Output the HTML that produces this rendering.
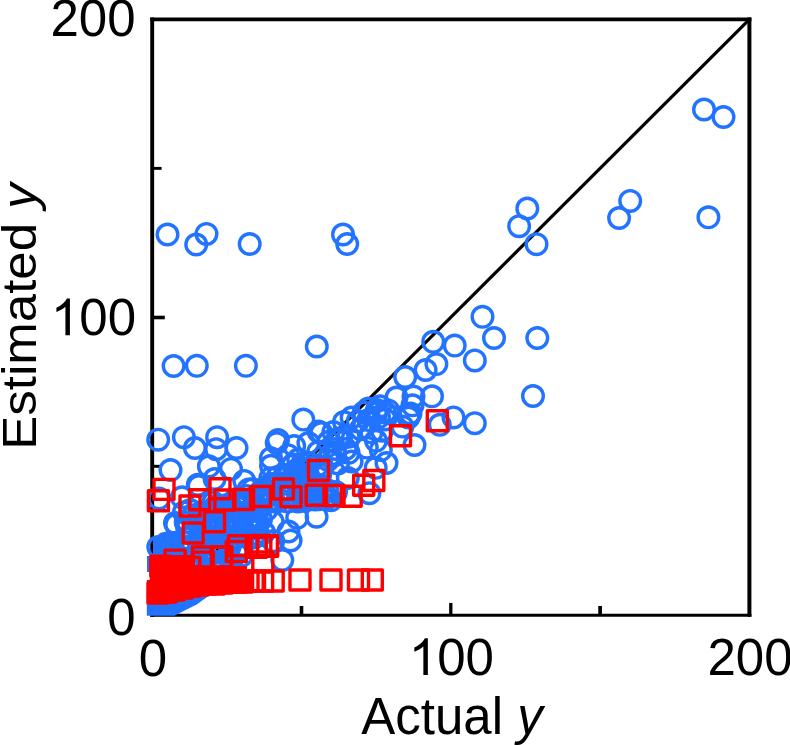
<!DOCTYPE html>
<html><head><meta charset="utf-8"><style>
html,body{margin:0;padding:0;background:#fff;width:790px;height:745px;overflow:hidden}
svg{display:block}
</style></head><body>
<svg width="790" height="745" viewBox="0 0 790 745">
<line x1="152.2" y1="615.3" x2="749.4" y2="19.4" stroke="#000" stroke-width="3.2"/>
<line x1="152.2" y1="17.4" x2="152.2" y2="616.8" stroke="#000" stroke-width="3.9"/>
<line x1="749.4" y1="17.4" x2="749.4" y2="616.8" stroke="#000" stroke-width="4"/>
<line x1="150.2" y1="19.4" x2="751.4" y2="19.4" stroke="#000" stroke-width="3.6"/>
<line x1="150.2" y1="615.3" x2="751.4" y2="615.3" stroke="#000" stroke-width="3"/>
<line x1="152.2" y1="466.32" x2="161.60" y2="466.32" stroke="#000" stroke-width="3.0"/>
<line x1="152.2" y1="317.50" x2="164.80" y2="317.50" stroke="#000" stroke-width="3.6"/>
<line x1="152.2" y1="168.37" x2="161.60" y2="168.37" stroke="#000" stroke-width="2.9"/>
<line x1="301.50" y1="615.3" x2="301.50" y2="606.00" stroke="#000" stroke-width="3.6"/>
<line x1="450.80" y1="615.3" x2="450.80" y2="602.90" stroke="#000" stroke-width="3.3"/>
<line x1="600.10" y1="615.3" x2="600.10" y2="606.00" stroke="#000" stroke-width="3.7"/>
<polygon fill="#2273ff" points="146.8,594 209,594 206.8,597.3 196.7,604.4 186.6,609.4 178,614 174.4,615.8 146.8,615.8"/>
<polygon fill="#2273ff" points="147,556 180,556 180,572 147,572"/>
<polygon fill="#2273ff" points="153,540 160,533 168,531 182,531 185,548 185,560 153,560"/>
<g fill="none" stroke="#2273ff" stroke-width="3.4"><circle cx="309.2" cy="463.6" r="10.3"/><circle cx="300.2" cy="467.0" r="10.3"/><circle cx="306.7" cy="470.6" r="10.3"/><circle cx="317.8" cy="465.5" r="10.3"/><circle cx="322.3" cy="466.9" r="10.3"/><circle cx="270.2" cy="478.4" r="10.3"/><circle cx="277.5" cy="477.1" r="10.3"/><circle cx="284.2" cy="476.7" r="10.3"/><circle cx="287.1" cy="475.1" r="10.3"/><circle cx="295.0" cy="471.7" r="10.3"/><circle cx="299.7" cy="473.5" r="10.3"/><circle cx="308.3" cy="476.3" r="10.3"/><circle cx="320.2" cy="474.6" r="10.3"/><circle cx="270.8" cy="484.1" r="10.3"/><circle cx="272.5" cy="484.3" r="10.3"/><circle cx="285.4" cy="483.1" r="10.3"/><circle cx="288.0" cy="482.3" r="10.3"/><circle cx="293.4" cy="478.6" r="10.3"/><circle cx="306.3" cy="483.0" r="10.3"/><circle cx="310.2" cy="485.0" r="10.3"/><circle cx="316.5" cy="484.6" r="10.3"/><circle cx="248.6" cy="489.4" r="10.3"/><circle cx="252.8" cy="489.1" r="10.3"/><circle cx="261.4" cy="491.0" r="10.3"/><circle cx="265.2" cy="489.4" r="10.3"/><circle cx="273.2" cy="487.4" r="10.3"/><circle cx="283.9" cy="489.1" r="10.3"/><circle cx="289.4" cy="490.8" r="10.3"/><circle cx="298.9" cy="488.6" r="10.3"/><circle cx="303.8" cy="489.0" r="10.3"/><circle cx="310.1" cy="490.3" r="10.3"/><circle cx="316.7" cy="489.2" r="10.3"/><circle cx="323.8" cy="492.1" r="10.3"/><circle cx="235.7" cy="499.3" r="10.3"/><circle cx="238.0" cy="499.2" r="10.3"/><circle cx="246.3" cy="495.9" r="10.3"/><circle cx="257.4" cy="498.3" r="10.3"/><circle cx="258.6" cy="495.5" r="10.3"/><circle cx="268.1" cy="494.9" r="10.3"/><circle cx="272.9" cy="494.7" r="10.3"/><circle cx="283.6" cy="492.6" r="10.3"/><circle cx="289.4" cy="495.6" r="10.3"/><circle cx="292.6" cy="494.8" r="10.3"/><circle cx="303.9" cy="496.1" r="10.3"/><circle cx="307.0" cy="499.4" r="10.3"/><circle cx="319.0" cy="499.3" r="10.3"/><circle cx="321.2" cy="494.4" r="10.3"/><circle cx="327.8" cy="498.0" r="10.3"/><circle cx="213.3" cy="502.5" r="10.3"/><circle cx="216.0" cy="506.1" r="10.3"/><circle cx="226.9" cy="505.1" r="10.3"/><circle cx="230.1" cy="505.5" r="10.3"/><circle cx="237.0" cy="505.5" r="10.3"/><circle cx="246.7" cy="501.9" r="10.3"/><circle cx="254.4" cy="506.0" r="10.3"/><circle cx="259.4" cy="500.4" r="10.3"/><circle cx="268.2" cy="501.2" r="10.3"/><circle cx="272.3" cy="500.6" r="10.3"/><circle cx="278.9" cy="500.9" r="10.3"/><circle cx="287.7" cy="501.6" r="10.3"/><circle cx="297.8" cy="501.5" r="10.3"/><circle cx="303.0" cy="500.7" r="10.3"/><circle cx="308.9" cy="499.6" r="10.3"/><circle cx="315.3" cy="499.6" r="10.3"/><circle cx="184.0" cy="512.3" r="10.3"/><circle cx="190.3" cy="510.0" r="10.3"/><circle cx="199.3" cy="513.4" r="10.3"/><circle cx="203.9" cy="512.3" r="10.3"/><circle cx="213.4" cy="511.0" r="10.3"/><circle cx="218.3" cy="508.9" r="10.3"/><circle cx="222.9" cy="507.4" r="10.3"/><circle cx="230.0" cy="511.7" r="10.3"/><circle cx="238.3" cy="507.6" r="10.3"/><circle cx="244.1" cy="512.4" r="10.3"/><circle cx="256.6" cy="511.2" r="10.3"/><circle cx="259.5" cy="508.2" r="10.3"/><circle cx="266.6" cy="509.7" r="10.3"/><circle cx="191.6" cy="517.2" r="10.3"/><circle cx="199.8" cy="518.1" r="10.3"/><circle cx="206.5" cy="519.7" r="10.3"/><circle cx="211.2" cy="515.8" r="10.3"/><circle cx="222.4" cy="514.5" r="10.3"/><circle cx="227.6" cy="518.0" r="10.3"/><circle cx="229.8" cy="519.3" r="10.3"/><circle cx="242.7" cy="517.9" r="10.3"/><circle cx="248.6" cy="519.2" r="10.3"/><circle cx="251.5" cy="517.2" r="10.3"/><circle cx="261.0" cy="519.3" r="10.3"/><circle cx="185.7" cy="522.3" r="10.3"/><circle cx="188.0" cy="522.4" r="10.3"/><circle cx="199.6" cy="521.9" r="10.3"/><circle cx="206.7" cy="527.3" r="10.3"/><circle cx="212.0" cy="523.2" r="10.3"/><circle cx="218.9" cy="525.3" r="10.3"/><circle cx="227.9" cy="524.8" r="10.3"/><circle cx="234.0" cy="521.0" r="10.3"/><circle cx="237.5" cy="522.3" r="10.3"/><circle cx="248.7" cy="522.6" r="10.3"/><circle cx="254.5" cy="520.6" r="10.3"/><circle cx="257.9" cy="522.4" r="10.3"/><circle cx="187.2" cy="528.4" r="10.3"/><circle cx="193.2" cy="531.1" r="10.3"/><circle cx="200.7" cy="532.4" r="10.3"/><circle cx="203.1" cy="533.8" r="10.3"/><circle cx="211.9" cy="527.7" r="10.3"/><circle cx="215.5" cy="530.9" r="10.3"/><circle cx="225.7" cy="529.6" r="10.3"/><circle cx="230.5" cy="529.9" r="10.3"/><circle cx="238.7" cy="533.4" r="10.3"/><circle cx="243.5" cy="532.8" r="10.3"/><circle cx="256.4" cy="528.3" r="10.3"/><circle cx="264.0" cy="532.5" r="10.3"/><circle cx="187.1" cy="538.3" r="10.3"/><circle cx="192.5" cy="534.8" r="10.3"/><circle cx="199.6" cy="537.7" r="10.3"/><circle cx="206.8" cy="539.0" r="10.3"/><circle cx="210.5" cy="534.8" r="10.3"/><circle cx="222.0" cy="535.4" r="10.3"/><circle cx="225.8" cy="536.9" r="10.3"/><circle cx="231.6" cy="539.7" r="10.3"/><circle cx="243.3" cy="536.3" r="10.3"/><circle cx="248.1" cy="536.6" r="10.3"/><circle cx="254.4" cy="537.3" r="10.3"/><circle cx="258.7" cy="535.6" r="10.3"/><circle cx="187.3" cy="542.4" r="10.3"/><circle cx="191.0" cy="545.9" r="10.3"/><circle cx="200.5" cy="543.0" r="10.3"/><circle cx="203.4" cy="543.2" r="10.3"/><circle cx="211.3" cy="544.6" r="10.3"/><circle cx="222.2" cy="547.4" r="10.3"/><circle cx="228.6" cy="541.7" r="10.3"/><circle cx="229.7" cy="546.5" r="10.3"/><circle cx="242.8" cy="544.8" r="10.3"/><circle cx="184.2" cy="552.6" r="10.3"/><circle cx="190.2" cy="550.1" r="10.3"/><circle cx="198.7" cy="548.6" r="10.3"/><circle cx="203.6" cy="551.7" r="10.3"/><circle cx="215.2" cy="553.0" r="10.3"/><circle cx="221.7" cy="551.8" r="10.3"/><circle cx="224.1" cy="550.2" r="10.3"/><circle cx="236.2" cy="553.4" r="10.3"/><circle cx="238.7" cy="548.7" r="10.3"/><circle cx="189.0" cy="562.3" r="10.3"/><circle cx="195.5" cy="555.9" r="10.3"/><circle cx="201.9" cy="558.3" r="10.3"/><circle cx="214.8" cy="561.7" r="10.3"/><circle cx="220.6" cy="562.5" r="10.3"/><circle cx="229.0" cy="557.8" r="10.3"/><circle cx="230.8" cy="562.1" r="10.3"/><circle cx="241.7" cy="555.7" r="10.3"/><circle cx="186.9" cy="564.3" r="10.3"/><circle cx="196.9" cy="564.4" r="10.3"/><circle cx="217.7" cy="564.4" r="10.3"/><circle cx="704" cy="109.5" r="10.3"/><circle cx="723.5" cy="117" r="10.3"/><circle cx="527.3" cy="208.5" r="10.3"/><circle cx="519.1" cy="226.2" r="10.3"/><circle cx="536.5" cy="244.2" r="10.3"/><circle cx="630.2" cy="200.9" r="10.3"/><circle cx="619.1" cy="218" r="10.3"/><circle cx="708.4" cy="217.3" r="10.3"/><circle cx="167.5" cy="234.5" r="10.3"/><circle cx="196.2" cy="244.5" r="10.3"/><circle cx="206.5" cy="233.9" r="10.3"/><circle cx="249.7" cy="244" r="10.3"/><circle cx="343" cy="234.5" r="10.3"/><circle cx="347.2" cy="244" r="10.3"/><circle cx="316.8" cy="346.5" r="10.3"/><circle cx="173.6" cy="366" r="10.3"/><circle cx="196.8" cy="365.8" r="10.3"/><circle cx="245.9" cy="365.8" r="10.3"/><circle cx="482.5" cy="316.8" r="10.3"/><circle cx="494" cy="338" r="10.3"/><circle cx="537.3" cy="338" r="10.3"/><circle cx="433.2" cy="341.8" r="10.3"/><circle cx="454.7" cy="345.6" r="10.3"/><circle cx="474.8" cy="360.4" r="10.3"/><circle cx="436.4" cy="364.1" r="10.3"/><circle cx="425.6" cy="370" r="10.3"/><circle cx="405.2" cy="377" r="10.3"/><circle cx="533" cy="396" r="10.3"/><circle cx="432" cy="396.3" r="10.3"/><circle cx="396.5" cy="397.5" r="10.3"/><circle cx="413.5" cy="396.5" r="10.3"/><circle cx="453.5" cy="417.4" r="10.3"/><circle cx="474.8" cy="423.2" r="10.3"/><circle cx="439.8" cy="424.8" r="10.3"/><circle cx="414.5" cy="445" r="10.3"/><circle cx="412.5" cy="405.3" r="10.3"/><circle cx="410.5" cy="413.4" r="10.3"/><circle cx="408.5" cy="417.5" r="10.3"/><circle cx="402.4" cy="426.6" r="10.3"/><circle cx="388.2" cy="410.4" r="10.3"/><circle cx="380.1" cy="406.3" r="10.3"/><circle cx="376" cy="413.4" r="10.3"/><circle cx="385.2" cy="419.5" r="10.3"/><circle cx="376" cy="440.8" r="10.3"/><circle cx="386.5" cy="463" r="10.3"/><circle cx="380.8" cy="450.1" r="10.3"/><circle cx="366.8" cy="447.6" r="10.3"/><circle cx="369.4" cy="493.2" r="10.3"/><circle cx="347.8" cy="478" r="10.3"/><circle cx="375.7" cy="467.8" r="10.3"/><circle cx="351.6" cy="461.5" r="10.3"/><circle cx="158.2" cy="439.7" r="10.3"/><circle cx="183.9" cy="437.2" r="10.3"/><circle cx="194.9" cy="448" r="10.3"/><circle cx="217.1" cy="437.2" r="10.3"/><circle cx="216.1" cy="449.2" r="10.3"/><circle cx="236.5" cy="448" r="10.3"/><circle cx="170.5" cy="470.1" r="10.3"/><circle cx="208.9" cy="466.3" r="10.3"/><circle cx="231" cy="468.9" r="10.3"/><circle cx="214.6" cy="479" r="10.3"/><circle cx="198.7" cy="486" r="10.3"/><circle cx="244.3" cy="480.9" r="10.3"/><circle cx="303.3" cy="419.6" r="10.3"/><circle cx="278" cy="439.9" r="10.3"/><circle cx="276.7" cy="443" r="10.3"/><circle cx="271" cy="458.2" r="10.3"/><circle cx="271" cy="465.8" r="10.3"/><circle cx="318.5" cy="431.6" r="10.3"/><circle cx="308.4" cy="443" r="10.3"/><circle cx="328.6" cy="441.8" r="10.3"/><circle cx="298.2" cy="459.5" r="10.3"/><circle cx="293.2" cy="464.6" r="10.3"/><circle cx="159.1" cy="498.5" r="10.3"/><circle cx="181.9" cy="497.3" r="10.3"/><circle cx="197.8" cy="484.8" r="10.3"/><circle cx="176.2" cy="524.7" r="10.3"/><circle cx="158.3" cy="547" r="10.3"/><circle cx="175" cy="523" r="10.3"/><circle cx="297.2" cy="517.8" r="10.3"/><circle cx="316.6" cy="516.7" r="10.3"/><circle cx="288.5" cy="531.5" r="10.3"/><circle cx="290.6" cy="540.5" r="10.3"/><circle cx="272.7" cy="521.8" r="10.3"/><circle cx="330.9" cy="500.3" r="10.3"/><circle cx="282.3" cy="560" r="10.3"/><circle cx="273.3" cy="541.1" r="10.3"/><circle cx="409.4" cy="414" r="10.3"/><circle cx="368.4" cy="408.5" r="10.3"/><circle cx="377" cy="410" r="10.3"/><circle cx="363.8" cy="412.5" r="10.3"/><circle cx="351.6" cy="417.5" r="10.3"/><circle cx="344" cy="422" r="10.3"/><circle cx="357.7" cy="421.6" r="10.3"/><circle cx="368.4" cy="420.1" r="10.3"/><circle cx="379" cy="417.1" r="10.3"/><circle cx="385" cy="412.5" r="10.3"/><circle cx="382" cy="430.8" r="10.3"/><circle cx="371.4" cy="432.3" r="10.3"/><circle cx="360.8" cy="429.2" r="10.3"/><circle cx="333.4" cy="432" r="10.3"/><circle cx="321.3" cy="433" r="10.3"/><circle cx="338" cy="438.4" r="10.3"/><circle cx="348.6" cy="436.8" r="10.3"/><circle cx="345.6" cy="449" r="10.3"/><circle cx="335" cy="449" r="10.3"/><circle cx="318.2" cy="452" r="10.3"/><circle cx="330.4" cy="455" r="10.3"/><circle cx="288.1" cy="455.2" r="10.3"/><circle cx="294.2" cy="446" r="10.3"/><circle cx="253.2" cy="519" r="10.3"/><circle cx="235" cy="519" r="10.3"/><circle cx="215.2" cy="519" r="10.3"/><circle cx="348.6" cy="452.8" r="10.3"/><circle cx="338" cy="463.4" r="10.3"/><circle cx="341" cy="439.1" r="10.3"/><circle cx="318" cy="473" r="10.3"/><circle cx="322" cy="467" r="10.3"/><circle cx="328" cy="460" r="10.3"/><circle cx="335" cy="455" r="10.3"/><circle cx="305" cy="480" r="10.3"/><circle cx="318" cy="485" r="10.3"/><circle cx="327" cy="490" r="10.3"/><circle cx="310" cy="495" r="10.3"/><circle cx="325" cy="498" r="10.3"/><circle cx="336" cy="492" r="10.3"/></g>
<polygon fill="#ff0000" points="149.7,555 195,555 195,566 247,566 247,572 252,572 252,593 210,595 206,596 186,597 178,600 172,604 146.9,604 146.9,580 149.7,580"/>
<g fill="none" stroke="#ff0000" stroke-width="3.4" stroke-linejoin="round"><rect x="427.30" y="410.80" width="20" height="20"/><rect x="390.50" y="425.80" width="20" height="20"/><rect x="154.00" y="479.40" width="20" height="20"/><rect x="210.00" y="478.70" width="20" height="20"/><rect x="308.50" y="460.50" width="20" height="20"/><rect x="148.40" y="490.80" width="20" height="20"/><rect x="180.00" y="496.00" width="20" height="20"/><rect x="189.60" y="489.80" width="20" height="20"/><rect x="214.90" y="490.00" width="20" height="20"/><rect x="233.60" y="489.50" width="20" height="20"/><rect x="250.50" y="486.50" width="20" height="20"/><rect x="273.40" y="479.00" width="20" height="20"/><rect x="281.00" y="486.80" width="20" height="20"/><rect x="306.20" y="485.20" width="20" height="20"/><rect x="324.00" y="485.50" width="20" height="20"/><rect x="341.20" y="486.20" width="20" height="20"/><rect x="363.80" y="470.50" width="20" height="20"/><rect x="353.70" y="475.20" width="20" height="20"/><rect x="183.20" y="523.00" width="20" height="20"/><rect x="204.50" y="511.80" width="20" height="20"/><rect x="250.80" y="535.40" width="20" height="20"/><rect x="257.50" y="536.40" width="20" height="20"/><rect x="226.30" y="541.50" width="20" height="20"/><rect x="246.30" y="537.30" width="20" height="20"/><rect x="211.80" y="547.00" width="20" height="20"/><rect x="192.50" y="547.00" width="20" height="20"/><rect x="165.10" y="550.10" width="20" height="20"/><rect x="193.40" y="552.10" width="20" height="20"/><rect x="211.50" y="547.00" width="20" height="20"/><rect x="150.80" y="556.10" width="20" height="20"/><rect x="252.80" y="552.00" width="20" height="20"/><rect x="290.00" y="570.00" width="20" height="20"/><rect x="321.00" y="570.00" width="20" height="20"/><rect x="348.50" y="570.00" width="20" height="20"/><rect x="362.30" y="570.00" width="20" height="20"/><rect x="263.20" y="571.00" width="20" height="20"/><rect x="252.60" y="571.00" width="20" height="20"/><rect x="244.50" y="571.00" width="20" height="20"/><rect x="238.00" y="571.00" width="20" height="20"/><rect x="232.00" y="572.00" width="20" height="20"/><rect x="226.00" y="572.00" width="20" height="20"/><rect x="220.00" y="572.00" width="20" height="20"/><rect x="212.00" y="573.00" width="20" height="20"/><rect x="204.00" y="574.00" width="20" height="20"/><rect x="196.00" y="574.00" width="20" height="20"/><rect x="188.00" y="575.00" width="20" height="20"/><rect x="180.00" y="576.00" width="20" height="20"/><rect x="172.00" y="578.00" width="20" height="20"/><rect x="164.00" y="580.00" width="20" height="20"/><rect x="156.00" y="582.00" width="20" height="20"/><rect x="148.00" y="583.00" width="20" height="20"/><rect x="228.50" y="535.70" width="20" height="20"/><rect x="257.60" y="535.70" width="20" height="20"/><rect x="179.90" y="557.40" width="20" height="20"/></g>
<g font-family="Liberation Sans, sans-serif" font-size="51" fill="#000"><text x="135.70" y="635.40" text-anchor="end">0</text><text x="152.90" y="676.20" text-anchor="middle">0</text><path transform="translate(50.91,335.20) scale(0.02490,-0.02490)" d="M763,0L583,0L583,1147Q518,1085 412,1023Q306,961 221,930L221,1104Q372,1175 485,1276Q598,1377 645,1472L763,1472Z"/><text x="79.27" y="335.20">00</text><path transform="translate(408.85,675.00) scale(0.02490,-0.02490)" d="M763,0L583,0L583,1147Q518,1085 412,1023Q306,961 221,930L221,1104Q372,1175 485,1276Q598,1377 645,1472L763,1472Z"/><text x="437.22" y="675.00">00</text><text x="135.50" y="36.10" text-anchor="end">200</text><text x="750.00" y="674.80" text-anchor="middle">200</text><text x="452.00" y="733.8" text-anchor="middle">Actual <tspan font-style="italic">y</tspan></text><text transform="translate(35.8,316.45) rotate(-90) scale(1,0.96)" text-anchor="middle">Estimated <tspan font-style="italic">y</tspan></text></g>
</svg>
</body></html>
